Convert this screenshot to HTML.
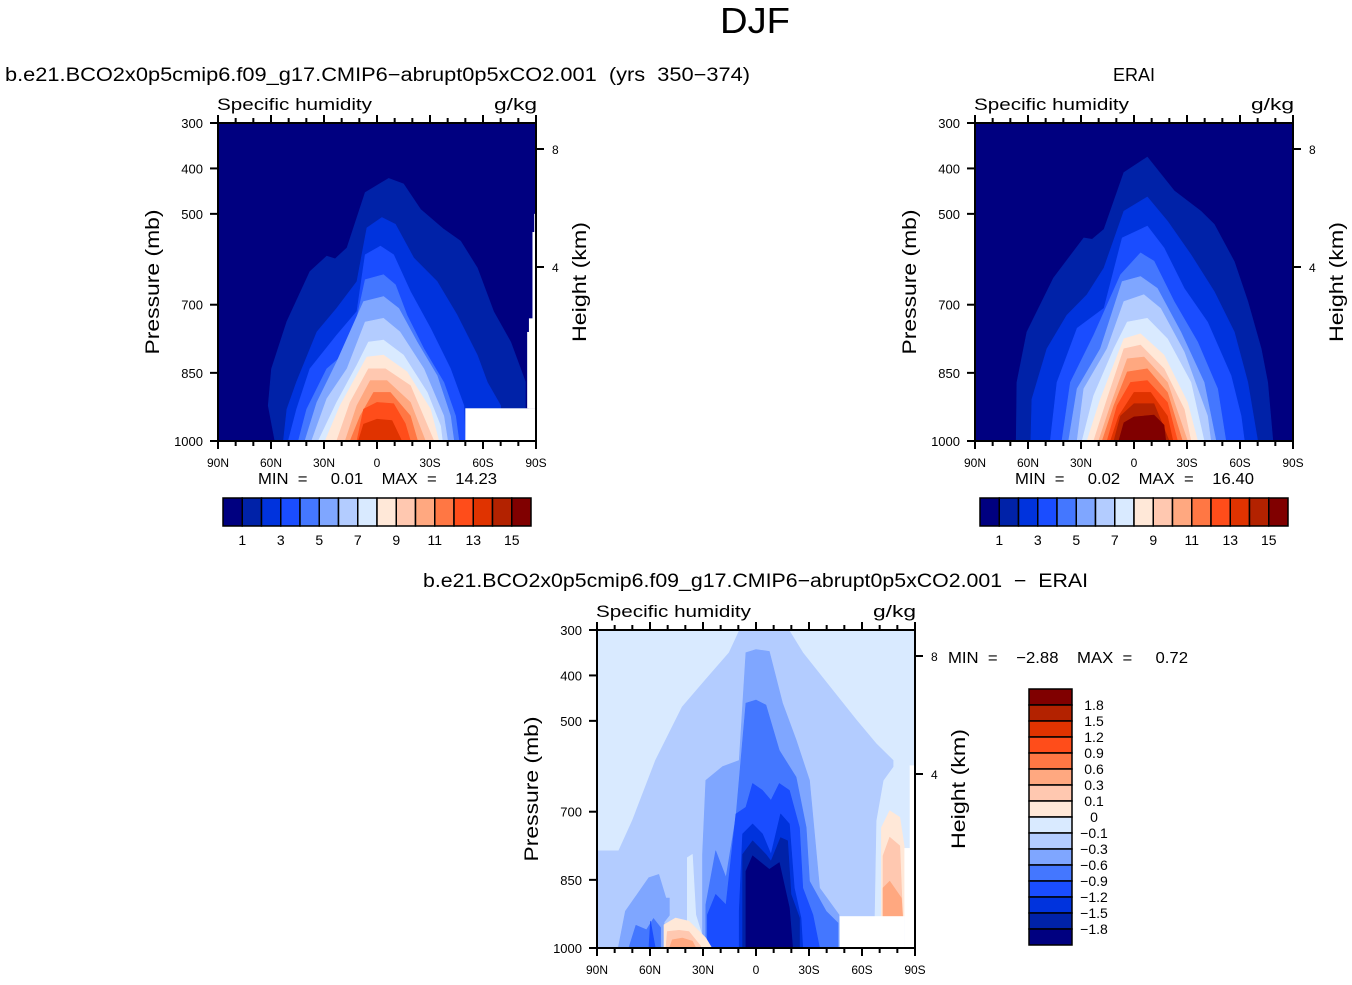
<!DOCTYPE html>
<html><head><meta charset="utf-8"><style>
body{margin:0;background:#fff;}
svg text{font-family:"Liberation Sans",sans-serif;fill:#000;}
</style></head><body>
<svg id="chart" width="1352" height="980" viewBox="0 0 1352 980" xmlns="http://www.w3.org/2000/svg">
<text x="755" y="33" font-size="36" text-anchor="middle" font-weight="300" textLength="70" lengthAdjust="spacingAndGlyphs">DJF</text>
</svg>
<script>
const COLORS=["#000080","#0022a8","#0033dd","#1a4dff","#4477ff","#7fa6ff","#b3ccff","#d9eaff","#ffe8d8","#ffc8b0","#ffa880","#ff7744","#ff4d1a","#e03300","#b32200","#800000"];
const latTicks=[90,60,30,0,-30,-60,-90];
const latTickLabels=["90N","60N","30N","0","30S","60S","90S"];
const presTicks=[300,400,500,700,850,1000];
const heightTicks=[[8,149],[4,267]];
const cbLabelsAbs=["1","3","5","7","9","11","13","15"];
const cbLabelsDiff=["1.8","1.5","1.2","0.9","0.6","0.3","0.1","0","\u22120.1","\u22120.3","\u22120.6","\u22120.9","\u22121.2","\u22121.5","\u22121.8"];
const modelLevels=[
[1,[[57.8,1000],[61.6,922],[59.7,841],[51,737],[38,627],[28.4,593],[23.7,599],[17,575],[6.7,453],[2,442],[-6.6,422],[-15,434],[-24.6,490],[-37.8,534],[-47.3,560],[-56.8,619],[-66,715],[-75.7,782],[-84,870],[-84,1000]]],
[2,[[53,1000],[51,930],[45.5,870],[34,760],[22.8,708],[11.4,649],[5.7,531],[-2.8,508],[-10.4,523],[-20.8,597],[-34,649],[-45.4,723],[-56.8,811],[-62.5,871],[-70,922],[-70,1000]]],
[3,[[50.2,1000],[45.5,930],[38,841],[22.8,767],[11.4,715],[6.7,590],[-1.9,571],[-9.4,590],[-18.9,671],[-30.3,752],[-41.6,841],[-49.2,922],[-50,1000]]],
[4,[[44.5,1000],[39.8,930],[28.4,841],[15.2,797],[6.7,645],[-3.7,634],[-10.4,656],[-17,723],[-26.5,797],[-37.8,871],[-44.5,945],[-46.4,1000]]],
[5,[[40.8,1000],[34,915],[22.8,826],[7.6,693],[-3.7,682],[-12.3,708],[-22.7,782],[-34,856],[-41.6,945],[-43.5,1000]]],
[6,[[37,1000],[28.4,907],[17,841],[6.7,738],[-3.7,730],[-13,760],[-26.5,841],[-37.8,945],[-40,1000]]],
[7,[[33.2,1000],[22.8,915],[11.4,833],[4.8,782],[-3.7,778],[-15,811],[-28.4,893],[-36,967],[-37,1000]]],
[8,[[29.4,1000],[20.9,922],[5.7,815],[-3.7,811],[-17,848],[-30.3,930],[-35,1000]]],
[9,[[22.8,1000],[15.2,915],[4.8,841],[-4.7,841],[-18.9,878],[-32.2,1000]]],
[10,[[18,1000],[11.4,922],[3.8,867],[-5.6,867],[-18.9,915],[-27.4,1000]]],
[11,[[15.2,1000],[9.5,945],[1.9,893],[-7.5,893],[-18.9,945],[-23,1000]]],
[12,[[11.4,1000],[7.6,930],[0,915],[-9.4,918],[-16,962],[-18.9,1000]]],
[13,[[10.5,1000],[7.6,963],[0,952],[-8.5,955],[-14,1000]]]
];
const eraLevels=[
[1,[[66.7,1000],[66.3,871],[60.6,760],[45.5,641],[28.4,553],[23.7,556],[17,534],[5.7,409],[-7.5,375],[-22.7,449],[-37.8,494],[-45.4,523],[-56.8,605],[-64.4,693],[-72,797],[-75.7,871],[-78.6,1000]]],
[2,[[58.4,1000],[57.8,908],[49.3,797],[38,723],[26.6,678],[17,619],[5.7,494],[-7.5,463],[-18.9,516],[-32.2,590],[-45.4,671],[-56.8,760],[-64.4,871],[-70,1000]]],
[3,[[47.4,1000],[43.6,871],[32.2,752],[17,708],[6.7,553],[-7.5,527],[-17,575],[-28.4,664],[-41.6,738],[-54.9,856],[-60.6,945],[-62.5,1000]]],
[4,[[40.8,1000],[36,871],[22.8,767],[7.6,634],[-3.7,586],[-11.3,604],[-22.7,693],[-36,782],[-47.3,885],[-52,1000]]],
[5,[[37,1000],[32.2,885],[19,797],[6.7,649],[-3.7,638],[-13.2,664],[-26.5,760],[-39.7,871],[-46.4,1000]]],
[6,[[32.2,1000],[28.4,885],[15.2,797],[5.7,693],[-5.6,678],[-15,708],[-28.4,804],[-41.6,945],[-43.5,1000]]],
[7,[[29.4,1000],[22.8,900],[11.4,797],[3.8,738],[-7.5,730],[-18.9,775],[-32.2,871],[-39.7,1000]]],
[8,[[26.6,1000],[19,908],[5.7,775],[-3.7,764],[-17,811],[-30.3,915],[-36,1000]]],
[9,[[22.8,1000],[15.2,908],[5.7,797],[-3.7,789],[-17,841],[-28.4,930],[-32.2,1000]]],
[10,[[20,1000],[13.3,922],[3.8,819],[-5.6,815],[-18.9,871],[-30.3,1000]]],
[11,[[18,1000],[11.4,922],[3.8,848],[-7.5,841],[-18.9,893],[-27.4,1000]]],
[12,[[15.2,1000],[9.5,922],[1.9,871],[-7.5,867],[-18.9,915],[-24.6,1000]]],
[13,[[13.3,1000],[8.6,945],[0,893],[-9.4,893],[-18.9,945],[-22,1000]]],
[14,[[11.4,1000],[7.6,945],[0,918],[-11.3,918],[-19.9,1000]]],
[15,[[8.6,1000],[5.7,960],[0,947],[-11.3,943],[-17,965],[-18,1000]]]
];
const diffLevels=[
[6,[[90,1000],[90,786],[77.7,786],[70,720],[56.9,587],[41.7,469],[28.4,409],[15.2,350],[9.5,302],[9.5,300],[-18.9,300],[-18.9,302],[-26.5,350],[-41.6,424],[-56.8,498],[-68,550],[-77.6,587],[-77.6,601],[-72,631],[-68,720],[-67,930],[-67,1000]]],
[5,[[78,1000],[73.9,919],[60.6,845],[55,838],[51,890],[49,890],[49,928],[52,943],[52,1000]]],
[5,[[30.3,1000],[30.3,794],[28.4,631],[19,601],[9.5,587],[5.7,350],[0,343],[-7.5,347],[-15,461],[-22.7,542],[-30.3,631],[-36,868],[-47,927],[-47.3,1000]]],
[4,[[72,1000],[68,950],[62,960],[58,935],[54,955],[54,1000]]],
[4,[[28.4,1000],[28.4,905],[22.8,786],[17,845],[11.4,712],[5.7,461],[0,454],[-5.6,465],[-13.2,565],[-22.7,624],[-28.4,735],[-30.3,853],[-39.7,919],[-46.4,945],[-46.4,1000]]],
[3,[[60.6,1000],[59.7,941],[57,1000]]],
[3,[[27.5,1000],[27.5,927],[22.8,882],[17,905],[11.4,705],[5.7,690],[1.9,638],[-3.7,653],[-8.5,675],[-13.2,638],[-18.9,653],[-24.6,735],[-26.5,868],[-32.2,927],[-36,1000]]],
[2,[[9.5,1000],[9.5,919],[7.6,749],[1.9,727],[-3.7,749],[-8.5,794],[-13.9,705],[-18.9,727],[-21.7,868],[-25.5,934],[-26.5,1000]]],
[1,[[7.6,1000],[7.6,794],[1.9,764],[-5.6,794],[-8.5,809],[-13.9,757],[-17.9,764],[-19.8,882],[-24.6,934],[-24.6,1000]]],
[0,[[5.7,1000],[5.7,831],[1.9,797],[-7.5,827],[-13.2,812],[-18.9,912],[-20.8,1000]]],
[7,[[38.9,1000],[38.9,801],[36,794],[34.1,927],[29.5,985],[29.5,1000]]],
[8,[[52.1,1000],[52.1,949],[45.5,934],[38,941],[28.4,978],[25,1000]]],
[9,[[51,1000],[50.2,964],[43.6,961],[38,964],[31.5,995],[31,1000]]],
[10,[[49,1000],[47.4,982],[41.7,978],[36,985],[34,1000]]],
[8,[[-71,930],[-71,735],[-75.7,698],[-81.4,712],[-84,779],[-84,930]]],
[9,[[-71.9,930],[-71.9,797],[-75.7,756],[-81.4,775],[-83,930]]],
[10,[[-71.9,930],[-71.9,868],[-75.7,853],[-82.3,890],[-83,930]]]
];
const svg=document.getElementById('chart');
const NS="http://www.w3.org/2000/svg";
function mk(tag,attrs,parent){const e=document.createElementNS(NS,tag);for(const k in attrs)e.setAttribute(k,attrs[k]);(parent||svg).appendChild(e);return e;}
function txt(s,x,y,size,anchor,parent,len){const a={x:x,y:y,'font-size':size,'text-anchor':anchor||'start'};if(len){a.textLength=len;a.lengthAdjust='spacingAndGlyphs';}const t=mk('text',a,parent);t.textContent=s;return t;}

function panel(x0,y0,name,bgColor,levels,missing){
  const W=318,H=318;
  const xs=lat=>x0+(90-lat)/180*W;
  const ys=p=>y0+(p-300)/700*H;
  const g=mk('g',{});
  
  
  const bg=mk('rect',{x:x0,y:y0,width:W,height:H,fill:COLORS[bgColor]},g);
  
  
  levels.forEach((lv,i)=>{
    const d=lv[1].map((pt,j)=>(j?'L':'M')+xs(pt[0]).toFixed(1)+','+ys(pt[1]).toFixed(1)).join(' ')+'Z';
    const p=mk('path',{d:d,fill:COLORS[lv[0]],stroke:COLORS[lv[0]],'stroke-width':0.6,'stroke-linejoin':'round'},g);
    
    
  });
  missing.forEach(m=>{
    const r=mk('rect',{x:xs(m[0]),y:ys(m[2]),width:xs(m[1])-xs(m[0]),height:ys(m[3])-ys(m[2]),fill:'#fff'},g);
    
    
  });
  const fr=mk('rect',{x:x0,y:y0,width:W,height:H,fill:'none',stroke:'#000','stroke-width':2},g);
  
  
  for(let lat=90;lat>=-90;lat-=10){
    const major=lat%30===0;const L=major?8:5;const x=xs(lat);
    mk('line',{x1:x,x2:x,y1:y0,y2:y0-L,stroke:'#000','stroke-width':2},g);
    mk('line',{x1:x,x2:x,y1:y0+H,y2:y0+H+L,stroke:'#000','stroke-width':2},g);
  }
  latTicks.forEach((lat,i)=>{const t=txt(latTickLabels[i],xs(lat),y0+H+26,12,'middle',g);
    
    });
  presTicks.forEach(p=>{
    mk('line',{x1:x0,x2:x0-8,y1:ys(p),y2:ys(p),stroke:'#000','stroke-width':2},g);
    const t=txt(String(p),x0-15,ys(p)+5,13,'end',g);
    
    
  });
  heightTicks.forEach(h=>{
    const y=y0+(h[1]-123);
    mk('line',{x1:x0+W,x2:x0+W+8,y1:y,y2:y,stroke:'#000','stroke-width':2},g);
    const t=txt(String(h[0]),x0+W+16,y+5,12,'start',g);
    
    
  });
  const a=txt('Specific  humidity',x0-1,y0-13,17,'start',g,155);
  
  
  const u=txt('g/kg',x0+W+1,y0-13,17,'end',g,43);
  
  
  const yt=txt('Pressure  (mb)',0,0,19,'middle',g,145);
  yt.setAttribute('transform','translate('+(x0-59)+','+(y0+159)+') rotate(-90)');
  
  
  const ht=txt('Height  (km)',0,0,19,'middle',g,120);
  ht.setAttribute('transform','translate('+(x0+W+50)+','+(y0+159)+') rotate(-90)');
  
  
}
function hbar(x0,y0){
  const g=mk('g',{});
  
  
  const w=308/16;
  COLORS.forEach((c,i)=>{mk('rect',{x:x0+i*w,y:y0,width:w,height:28,fill:c,stroke:'#000','stroke-width':1.5},g);});
  cbLabelsAbs.forEach((s,i)=>{const t=txt(s,x0+(2*i+1)*w,y0+47,14,'middle',g);
    
    });
}
panel(218,123,'model-panel',0,modelLevels,[[-50,-90,928,1000],[-86,-90,730,928],[-85,-90,760,928],[-88,-90,540,760],[-89,-90,500,560]]);
panel(975,123,'erai-panel',0,eraLevels,[]);
panel(597,630,'difference-panel',7,diffLevels,[[-47.3,-84,930,1000],[-87,-90,598,1000],[-84,-90,780,1000]]);
hbar(223,498);hbar(980,498);
(function(){
  const g=mk('g',{});
  
  
  const x0=1029,y0=689,h=16;
  for(let i=0;i<16;i++){mk('rect',{x:x0,y:y0+i*h,width:43,height:h,fill:COLORS[15-i],stroke:'#000','stroke-width':1.5},g);}
  cbLabelsDiff.forEach((s,i)=>{const t=txt(s,1094,y0+(i+1)*h+5,14,'middle',g);
    
    });
})();
const labels=[
 ['model-title','b.e21.BCO2x0p5cmip6.f09_g17.CMIP6\u2212abrupt0p5xCO2.001  (yrs  350\u2212374)',5,81,19,'start',745],
 ['erai-title','ERAI',1134,81,18,'middle',42],
 ['model-minmax','MIN  =     0.01    MAX  =    14.23',258,484,16,'start',239],
 ['erai-minmax','MIN  =     0.02    MAX  =    16.40',1015,484,16,'start',239],
 ['difference-title','b.e21.BCO2x0p5cmip6.f09_g17.CMIP6\u2212abrupt0p5xCO2.001  \u2212  ERAI',423,587,19,'start',665],
 ['difference-minmax','MIN  =    \u22122.88    MAX  =     0.72',948,663,16,'start',240]
];
labels.forEach(l=>{const t=txt(l[1],l[2],l[3],l[4],l[5],null,l[6]);
  
  
  t.setAttribute('xml:space','preserve');t.style.whiteSpace='pre';});
</script>
</body></html>
